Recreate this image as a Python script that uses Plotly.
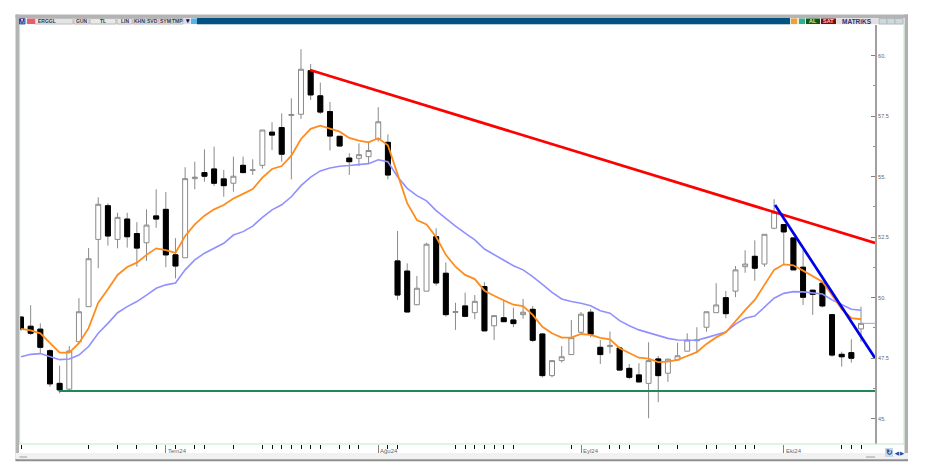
import plotly.graph_objects as go

W, H = 937, 476

opens = [49.20,48.82,48.70,47.81,46.46,46.22,48.18,49.63,52.41,53.80,
         52.41,53.25,52.65,52.27,53.38,53.65,51.77,51.65,54.92,55.17,
         55.32,54.91,54.73,55.47,55.26,55.47,56.84,57.03,57.53,57.58,
         59.38,58.34,57.69,56.67,55.77,55.76,55.83,56.56,56.42,51.52,
         51.10,49.71,50.27,52.52,51.01,49.39,49.66,49.38,50.46,48.84,
         49.17,49.08,49.30,49.52,48.50,46.78,47.40,47.65,48.57,49.40,
         47.95,47.98,47.92,47.08,46.81,46.46,47.47,46.88,47.43,47.79,
         48.22,48.78,49.38,50.00,50.27,51.28,51.71,51.39,52.87,53.02,
         52.47,51.26,50.31,50.60,49.30,47.66,47.73,48.71]
highs = [49.24,49.69,48.94,47.87,47.19,48.00,49.98,52.05,54.15,53.90,
         53.51,53.51,53.12,53.65,54.48,54.37,52.46,55.39,55.62,56.13,
         56.24,55.28,55.83,55.83,55.72,56.93,57.25,57.62,58.24,60.27,
         59.66,58.89,58.09,56.68,55.97,56.38,56.45,57.87,56.75,52.76,
         51.42,50.90,52.27,52.87,51.46,49.79,50.21,50.11,50.64,49.26,
         49.87,49.59,49.95,49.66,48.53,47.40,48.00,49.08,49.41,49.53,
         48.25,48.60,47.98,47.26,47.29,48.16,47.59,47.48,48.14,48.53,
         48.78,49.42,50.60,50.28,51.31,51.96,52.37,52.62,54.07,53.02,
         52.47,51.97,50.32,50.60,49.33,47.77,48.28,49.63]
lows = [48.63,48.46,47.70,46.32,46.05,46.12,48.13,49.63,51.22,52.15,
        52.04,52.07,51.28,51.52,52.89,51.26,50.80,51.65,54.48,54.79,
        54.62,54.17,54.38,55.14,55.07,55.33,56.10,55.62,54.89,57.39,
        58.17,57.59,56.08,56.24,55.07,55.44,55.55,56.45,54.89,49.91,
        49.41,49.69,50.27,50.50,49.22,48.67,49.23,49.11,48.63,48.25,
        49.01,48.78,49.13,48.17,46.70,46.71,47.32,47.65,48.54,48.36,
        47.26,47.70,46.98,46.63,46.52,45.02,45.68,46.52,47.40,47.79,
        47.73,48.60,49.38,49.15,50.02,51.03,50.70,51.28,52.83,51.35,
        51.15,49.70,49.29,49.60,47.56,47.15,47.32,48.18]
closes = [48.71,48.53,47.95,46.44,46.19,47.80,49.42,51.61,53.86,52.55,
          53.32,52.52,52.05,53.00,53.25,51.77,51.31,54.92,54.98,55.02,
          54.73,54.63,55.02,55.17,55.28,56.93,56.72,55.93,57.57,59.44,
          58.38,57.67,56.68,56.27,55.62,55.91,56.08,57.27,55.07,50.11,
          49.41,50.39,52.21,50.61,49.30,49.43,49.23,49.85,48.63,49.26,
          49.01,48.93,49.40,48.24,46.78,47.40,47.56,48.35,49.32,48.49,
          47.65,48.03,47.01,46.71,46.52,47.40,46.78,47.46,47.60,48.25,
          48.25,49.42,49.70,49.34,51.15,51.39,51.22,52.62,53.53,52.72,
          51.15,50.02,50.14,49.66,47.63,47.56,47.50,48.94]
ma_fast = [48.71,48.65,48.53,48.12,47.73,47.73,48.12,48.74,49.79,50.35,
           50.94,51.27,51.45,51.77,52.04,51.97,51.85,52.55,53.03,53.39,
           53.65,53.83,54.10,54.29,54.49,54.96,55.32,55.44,55.87,56.56,
           56.98,57.11,57.00,56.86,56.60,56.49,56.42,56.59,56.30,55.07,
           53.91,53.21,53.03,52.51,51.77,51.28,50.94,50.77,50.29,50.08,
           49.88,49.71,49.65,49.29,48.80,48.53,48.35,48.35,48.50,48.46,
           48.34,48.28,47.91,47.73,47.52,47.48,47.34,47.36,47.43,47.59,
           47.75,48.09,48.36,48.57,49.04,49.49,49.91,50.53,51.15,51.38,
           51.34,51.12,50.90,50.66,50.11,49.53,49.16,49.11]
ma_slow = [47.56,47.66,47.69,47.56,47.44,47.47,47.63,47.98,48.53,48.94,
           49.38,49.63,49.84,50.11,50.39,50.53,50.61,51.15,51.56,51.84,
           52.04,52.25,52.59,52.73,52.96,53.32,53.63,53.84,54.17,54.63,
           54.98,55.24,55.36,55.43,55.46,55.50,55.54,55.70,55.62,55.00,
           54.52,54.22,54.00,53.60,53.27,52.96,52.67,52.39,52.01,51.79,
           51.56,51.32,51.15,50.87,50.55,50.22,49.95,49.84,49.77,49.67,
           49.46,49.36,49.05,48.84,48.67,48.55,48.42,48.32,48.25,48.24,
           48.24,48.35,48.46,48.58,48.91,49.15,49.24,49.63,49.98,50.18,
           50.25,50.24,50.18,50.15,49.91,49.70,49.52,49.48]

red_x, red_y = [29.93, 88.45], [59.41, 52.26]
blue_x, blue_y = [78.1, 88.45], [53.83, 47.51]
green_x, green_y = [3.9, 88.45], [46.14, 46.14]
stub_x, stub_y = [87, 88.45], [48.94, 48.94]

y_ticks = [60, 57.5, 55, 52.5, 50, 47.5, 45]
y_labels = ["60.", "57.5", "55.", "52.5", "50.", "47.5", "45."]
y_minor = [58.75, 56.25, 53.75, 51.25, 48.75, 46.25]
month_idx = [15, 37, 58, 79]
month_labels = ["Tem24", "Ağu24", "Eyl24", "Eki24"]
day_ticks = [0, 7, 10, 12, 14, 16, 18, 19, 22, 25, 26, 27, 28, 29, 30, 31, 33, 34, 35,
             38, 39, 45, 46, 47, 48, 49, 50, 51, 57, 61, 62, 63, 66, 68, 71, 72, 74, 75,
             76, 85, 86, 87]

x_idx = list(range(len(closes)))
GRAY = "#8a8a8a"

fig = go.Figure()
# all candles: gray wicks, white or black bodies
fig.add_trace(go.Candlestick(
    x=x_idx, open=opens, high=highs, low=lows, close=closes, whiskerwidth=0,
    increasing=dict(line=dict(color=GRAY, width=1), fillcolor="white"),
    decreasing=dict(line=dict(color=GRAY, width=1), fillcolor="black"),
    hoverinfo="skip"))
# black outline over the falling bodies
fig.add_trace(go.Candlestick(
    x=x_idx, open=opens,
    high=[max(o, c) for o, c in zip(opens, closes)],
    low=[min(o, c) for o, c in zip(opens, closes)],
    close=closes, whiskerwidth=0,
    increasing=dict(line=dict(color="rgba(0,0,0,0)", width=0), fillcolor="rgba(0,0,0,0)"),
    decreasing=dict(line=dict(color="black", width=1), fillcolor="black"),
    hoverinfo="skip"))

def line(x, y, color, width):
    fig.add_trace(go.Scatter(x=x, y=y, mode="lines", hoverinfo="skip",
                             line=dict(color=color, width=width)))

line(x_idx, ma_slow, "#9090ff", 1.6)
line(x_idx, ma_fast, "#ff8c1e", 1.8)
line(stub_x, stub_y, "#a0a0f0", 1)
line(green_x, green_y, "#1d8a55", 2)
line(red_x, red_y, "#ff0000", 2.7)
line(blue_x, blue_y, "#0000e6", 2.7)

PLOT_L, PLOT_R, PLOT_T, PLOT_B = 19.7, 875.0, 25.0, 443.5
STEP = 840 / 87
SCALE = 24.2 / 1.0  # px per price unit
x0 = (PLOT_L - 21) / STEP
x1 = (PLOT_R - 21) / STEP
ytop = 60 + (55.7 - PLOT_T) / SCALE
ybot = 60 - (PLOT_B - 55.7) / SCALE

shapes, annos = [], []

def rect(a, b, c, d, fill, line_color=None, layer="above"):
    shapes.append(dict(type="rect", xref="paper", yref="paper", layer=layer,
                       x0=a / W, x1=b / W, y0=1 - d / H, y1=1 - c / H, fillcolor=fill,
                       line=dict(width=1 if line_color else 0,
                                 color=line_color or "rgba(0,0,0,0)")))

def text(x, y, s, color="#333344", size=5.5, bold=True, anchor="center"):
    annos.append(dict(xref="paper", yref="paper", x=x / W, y=1 - y / H,
                      text=f"<b>{s}</b>" if bold else s,
                      showarrow=False, xanchor=anchor, yanchor="middle",
                      font=dict(family="Liberation Sans", size=size, color=color)))

# window frame
rect(15.5, 908, 14.5, 18, "#b4b4b4")
rect(15.5, 19, 14.5, 461, "#b4b4b4")
rect(904.5, 908, 14.5, 461, "#b0b0b0")
rect(15.5, 908, 453, 459.3, "#f1f1f1")
rect(15.5, 908, 459.3, 461.3, "#8f8f8f")
rect(19, 20.2, 24, 444, "#bfeac8")
rect(903.5, 904.5, 24, 444, "#bfeac8")
rect(19, 904.5, 443.4, 444.4, "#bfeac8")

# toolbar
rect(19, 904.5, 18, 24.3, "#e6e6e6")
rect(197, 790, 18, 24.3, "#03527f")
for a, b, s in [(74, 89, "GUN"), (90, 116, "TL"), (117, 132, "LIN"), (133, 145, "KHN"),
                (146, 159, "SVD"), (159, 171, "SYM"), (172, 183, "TMP")]:
    rect(a, b, 18.5, 24, "#e8e8e8", "#b8b8b8")
    text((a + b) / 2, 21.2, s, size=5)
rect(35, 73, 18.5, 24, "#e4e4e4", "#c0c0c0")
text(35.5, 21.2, "ERGGL", size=5, anchor="left")
rect(19.5, 25, 18.5, 24, "#ffffff", "#6060a0")
text(22.2, 21.2, "M", color="#20207a", size=7)
rect(27, 35, 18.5, 24, "#e06070")
rect(184, 190, 18.5, 24, "#dcdcf0")
text(187, 21, "▾", color="#101050", size=7)
rect(191, 197, 18.5, 24, "#55b4e6")
rect(791, 797, 18.5, 24, "#f0a030")
rect(799, 805, 18.5, 24, "#30b090")
rect(806, 820, 18.5, 24, "#0f5a12")
text(813, 21.2, "AL", color="#d8f0d8", size=5.5)
rect(821, 836, 18.5, 24, "#7c0a14")
text(828.5, 21.2, "SAT", color="#f0d0d0", size=5.5)
rect(837, 877, 18.5, 24, "#e0e0e0")
text(857, 21.2, "MATRiKS", color="#30307a", size=6.5)
for a in (879, 887, 895):
    rect(a, a + 8, 18.5, 24, "#cfd8dc", "#b0b8bc")

# bottom strip decorations
rect(19.5, 27, 456, 458, "#c8c8c8")
rect(866, 875, 456, 458, "#c8c8c8")
rect(885, 893, 448, 457, "#c8d8ea")
text(889, 452.5, "↻", color="#1a4fa0", size=8)
text(896.5, 453, "◀", color="#1a4fa0", size=5)
text(901.5, 453, "▶", color="#1a4fa0", size=5)

# month labels next to their long ticks
for i, s in zip(month_idx, month_labels):
    annos.append(dict(xref="x", yref="paper", x=i, y=1 - 450.5 / H, text=s, showarrow=False,
                      xanchor="left", xshift=0, yanchor="middle",
                      font=dict(family="Liberation Sans", size=6, color="#666666")))

fig.update_layout(
    width=W, height=H, margin=dict(l=0, r=0, t=0, b=0), showlegend=False, boxgap=0.27,
    paper_bgcolor="white", plot_bgcolor="white", shapes=shapes, annotations=annos,
    xaxis=dict(domain=[PLOT_L / W, PLOT_R / W], range=[x0, x1], rangeslider=dict(visible=False),
               showgrid=False, zeroline=False, showline=False, tickmode="array",
               tickvals=month_idx, ticktext=[""] * len(month_idx), ticks="outside", ticklen=10,
               tickcolor="#808080", tickwidth=1,
               minor=dict(tickmode="array", tickvals=day_ticks, ticks="outside", ticklen=4,
                          tickcolor="#111111", tickwidth=1.2, showgrid=False)),
    yaxis=dict(domain=[1 - PLOT_B / H, 1 - PLOT_T / H], range=[ybot, ytop], side="right",
               anchor="x", showgrid=False, zeroline=False, showline=True, linecolor="#a0a0a0",
               linewidth=2, tickmode="array", tickvals=y_ticks, ticktext=y_labels, ticks="inside",
               ticklen=4, tickcolor="#808080", tickwidth=1,
               tickfont=dict(family="Liberation Sans", size=5.5, color="#666666"),
               minor=dict(tickmode="array", tickvals=y_minor, ticks="inside", ticklen=2,
                          tickcolor="#909090", showgrid=False)),
)

fig.write_html("out.html", config=dict(displayModeBar=False),
               post_script="document.body.style.margin='0';")
